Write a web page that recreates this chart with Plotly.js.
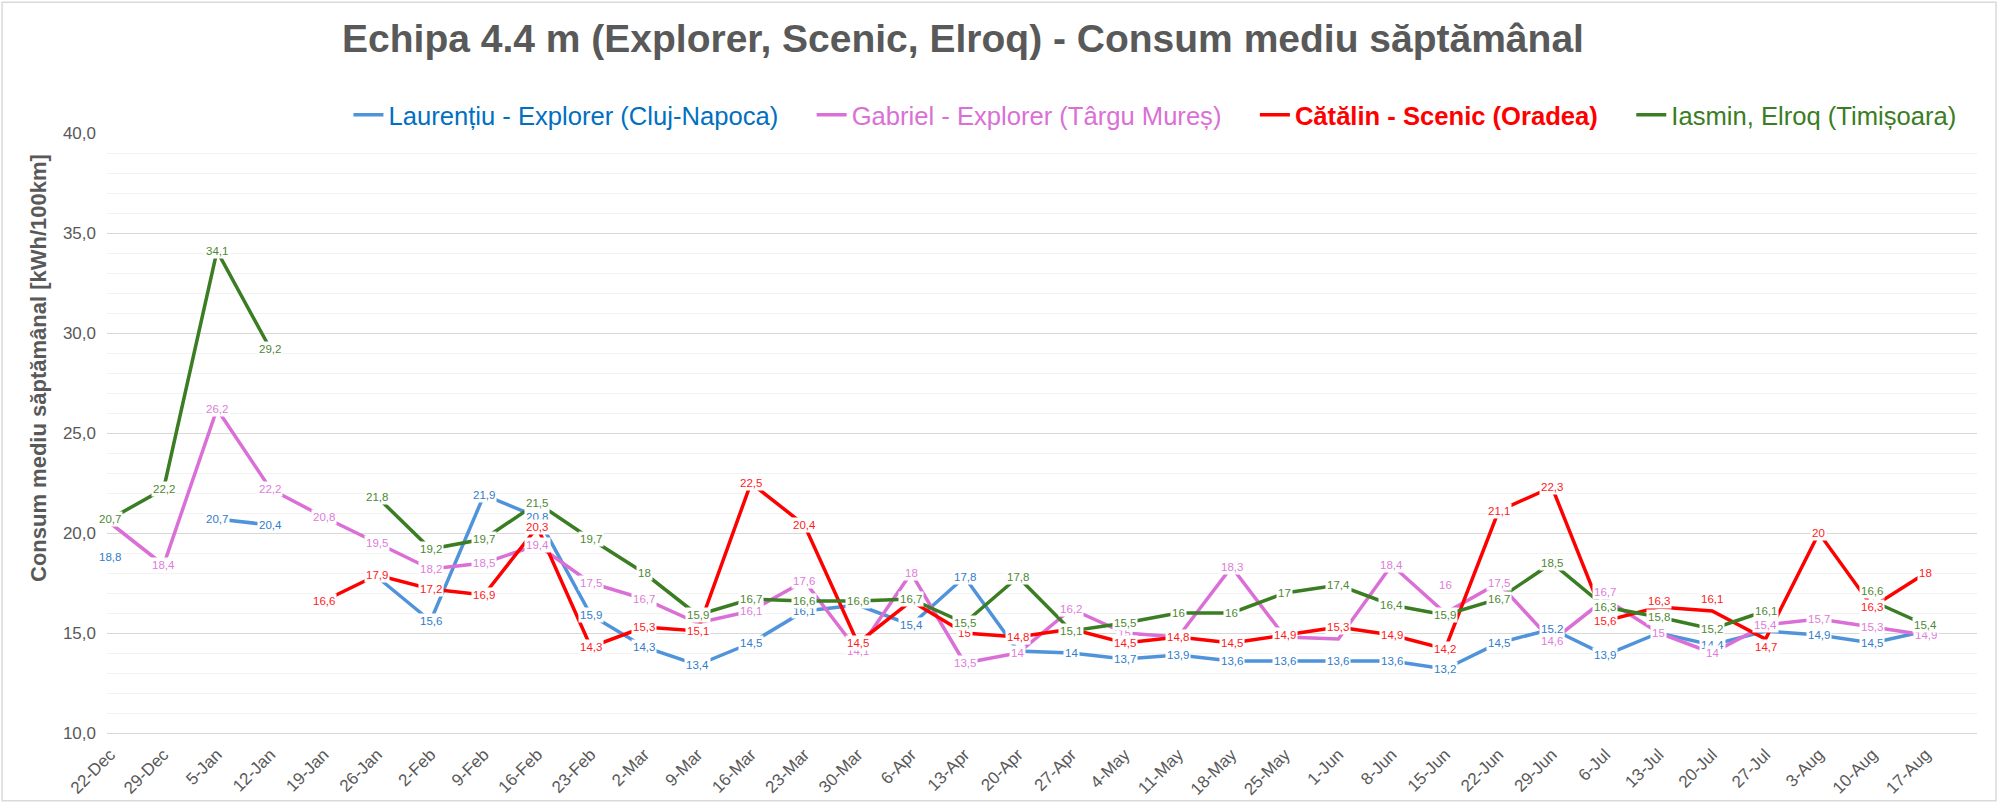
<!DOCTYPE html>
<html>
<head>
<meta charset="utf-8">
<script src="https://cdn.plot.ly/plotly-3.0.1.min.js"></script>
<style>
  html, body { margin: 0; padding: 0; background: #fff; }
  #chart { width: 2000px; height: 804px; }
</style>
</head>
<body>
<div id="chart"></div>
<script>
// weekly average consumption, kWh/100km (null = no data that week)
var weeks = ['22-Dec', '29-Dec', '5-Jan', '12-Jan', '19-Jan', '26-Jan', '2-Feb', '9-Feb', '16-Feb', '23-Feb',
  '2-Mar', '9-Mar', '16-Mar', '23-Mar', '30-Mar', '6-Apr', '13-Apr', '20-Apr', '27-Apr', '4-May',
  '11-May', '18-May', '25-May', '1-Jun', '8-Jun', '15-Jun', '22-Jun', '29-Jun', '6-Jul', '13-Jul',
  '20-Jul', '27-Jul', '3-Aug', '10-Aug', '17-Aug'];

var laurentiu = [18.8, null, 20.7, 20.4, null, 17.8, 15.6, 21.9, 20.8, 15.9,
  14.3, 13.4, 14.5, 16.1, 16.4, 15.4, 17.8, 14.1, 14, 13.7,
  13.9, 13.6, 13.6, 13.6, 13.6, 13.2, 14.5, 15.2, 13.9, 15,
  14.4, 15.1, 14.9, 14.5, 15.1];

var gabriel = [20.5, 18.4, 26.2, 22.2, 20.8, 19.5, 18.2, 18.5, 19.4, 17.5,
  16.7, 15.5, 16.1, 17.6, 14.1, 18, 13.5, 14, 16.2, 15,
  14.8, 18.3, 14.8, 14.7, 18.4, 16, 17.5, 14.6, 16.7, 15,
  14, 15.4, 15.7, 15.3, 14.9];

var catalin = [null, null, null, null, 16.6, 17.9, 17.2, 16.9, 20.3, 14.3,
  15.3, 15.1, 22.5, 20.4, 14.5, 16.6, 15, 14.8, 15.2, 14.5,
  14.8, 14.5, 14.9, 15.3, 14.9, 14.2, 21.1, 22.3, 15.6, 16.3,
  16.1, 14.7, 20, 16.3, 18];

var iasmin = [20.7, 22.2, 34.1, 29.2, null, 21.8, 19.2, 19.7, 21.5, 19.7,
  18, 15.9, 16.7, 16.6, 16.6, 16.7, 15.5, 17.8, 15.1, 15.5,
  16, 16, 17, 17.4, 16.4, 15.9, 16.7, 18.5, 16.3, 15.8,
  15.2, 16.1, null, 16.6, 15.4];

var names = ['Laurențiu - Explorer (Cluj-Napoca)', 'Gabriel - Explorer (Târgu Mureș)',
  'Cătălin - Scenic (Oradea)', 'Iasmin, Elroq (Timișoara)'];

// labels that are covered / not shown on the original chart
var hidden_labels = [[5, 14, 17, 29, 31, 34], [0, 11, 20, 22, 23], [15, 18], []];
// a few labels were dragged off their point in the original (pixels, + = up)
var label_nudge = [{}, {25: 28, 28: 7}, {29: 6, 30: 12, 31: -8}, {33: 10}];

var FONT = 'Liberation Sans, Arial, sans-serif';
var GREY = '#595959';
var GAP = '&nbsp;&nbsp;&nbsp;&nbsp;';

var series = [
  {y: laurentiu, line: '#4F93DA', label: '#2F7CCB', legend: '#0070C0', bold: false},
  {y: gabriel, line: '#DA70D6', label: '#DE7CDA', legend: '#DA70D6', bold: false},
  {y: catalin, line: '#FF0000', label: '#FF1A1A', legend: '#FF0000', bold: true},
  {y: iasmin, line: '#3A7D22', label: '#4C8A32', legend: '#3A7D22', bold: false}
];

// comma as decimal separator, like the source sheet
var fmt = function (v) {
  return String(v).replace('.', ',');
};

var data = [];
var annotations = [];

series.forEach(function (s, k) {
  var txt = s.bold ? '<b>' + names[k] + '</b>' : names[k];
  if (k < series.length - 1) txt += GAP;
  data.push({
    x: weeks,
    y: s.y,
    type: 'scatter',
    mode: 'lines',
    name: '<span style="color:' + s.legend + '">' + txt + '</span>',
    line: {color: s.line, width: 3.5},
    connectgaps: false,
    hoverinfo: 'skip'
  });
  for (var i = 0; i < weeks.length; i++) {
    if (s.y[i] === null || hidden_labels[k].indexOf(i) >= 0) continue;
    annotations.push({
      x: weeks[i], y: s.y[i], xref: 'x', yref: 'y',
      text: fmt(s.y[i]),
      showarrow: false,
      yshift: label_nudge[k][i] || 0,
      bgcolor: 'white',
      borderpad: 1,
      font: {family: FONT, size: 11.5, color: s.label}
    });
  }
});

// y axis title sits a bit above the middle in the original
annotations.push({
  xref: 'paper', yref: 'paper', x: -0.037, y: 0.608,
  text: 'Consum mediu săptămânal [kWh/100km]',
  textangle: -90, showarrow: false,
  xanchor: 'center', yanchor: 'middle',
  font: {family: FONT, size: 22, color: GREY, weight: 'bold'}
});

var layout = {
  width: 2000,
  height: 804,
  margin: {l: 107, r: 23, t: 133, b: 71},
  paper_bgcolor: 'white',
  plot_bgcolor: 'white',
  separators: ',.',
  showlegend: true,
  hovermode: false,
  title: {
    text: 'Echipa 4.4 m (Explorer, Scenic, Elroq) - Consum mediu săptămânal',
    font: {family: FONT, size: 39, color: GREY, weight: 'bold'},
    x: 0.4815, xref: 'container', xanchor: 'center',
    y: 0.952, yref: 'container', yanchor: 'middle'
  },
  legend: {
    orientation: 'h',
    x: 0.5604, xanchor: 'center',
    y: 1.03, yanchor: 'middle',
    font: {family: FONT, size: 25.6},
    bgcolor: 'rgba(0,0,0,0)'
  },
  xaxis: {
    type: 'category',
    categoryarray: weeks,
    range: [-0.06, 34.96],
    tickangle: -45,
    tickfont: {family: FONT, size: 17, color: GREY},
    showgrid: false,
    zeroline: false,
    showline: true,
    linecolor: '#D9D9D9',
    linewidth: 1,
    ticks: '',
    ticklabelstandoff: 4
  },
  yaxis: {
    range: [10, 40],
    dtick: 5,
    tickformat: '.1f',
    tickfont: {family: FONT, size: 17, color: GREY},
    gridcolor: '#D9D9D9',
    gridwidth: 1,
    minor: {dtick: 1, showgrid: true, gridcolor: '#F2F2F2', gridwidth: 1},
    zeroline: false,
    showline: false,
    ticks: '',
    ticklabelstandoff: 10
  },
  shapes: [{
    type: 'rect', xref: 'paper', yref: 'paper',
    x0: -0.0561, x1: 1.0102, y0: -0.113, y1: 1.218,
    line: {color: '#D9D9D9', width: 1.5}
  }],
  annotations: annotations
};

Plotly.newPlot('chart', data, layout, {displayModeBar: false, staticPlot: true});
</script>
</body>
</html>
